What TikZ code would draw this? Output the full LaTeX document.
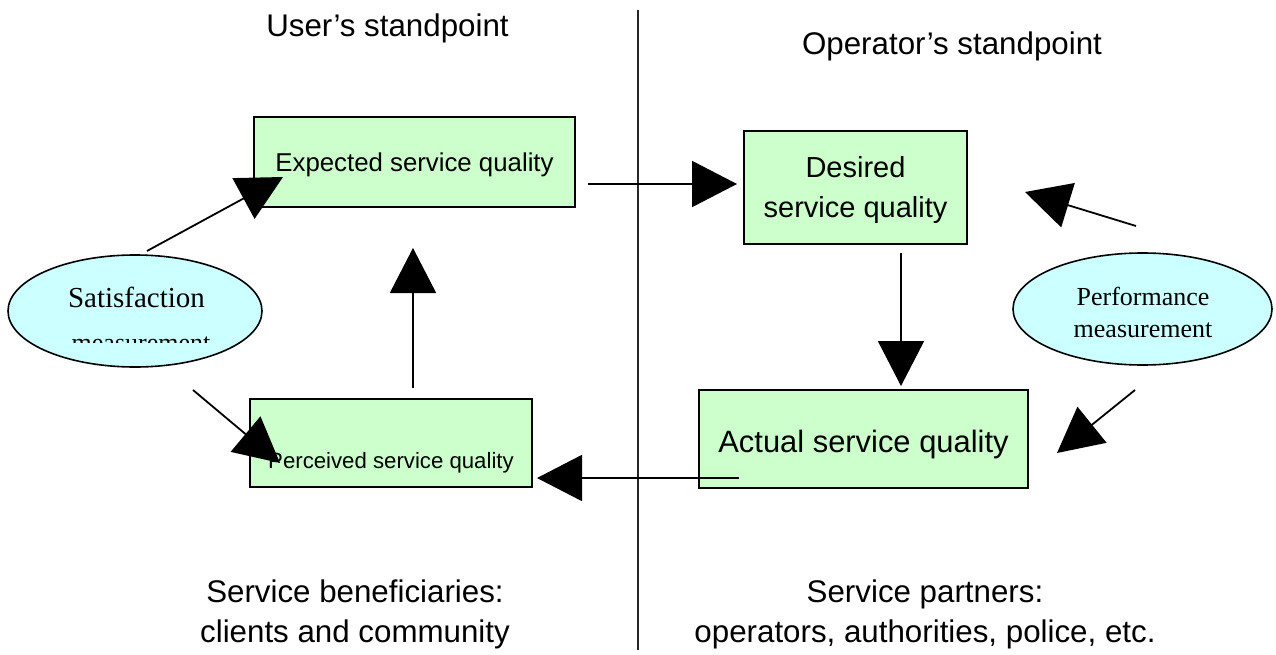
\documentclass[tikz,border=0pt]{standalone}
\usepackage{fontspec}
\setmainfont{Liberation Serif}
\newfontfamily\arialf{Liberation Sans}
\usetikzlibrary{arrows.meta,shapes.geometric}
\definecolor{boxgreen}{HTML}{CCFFCC}
\definecolor{ellcyan}{HTML}{CCFFFF}
\begin{document}
\begin{tikzpicture}[x=1pt,y=-1pt,
  qbox/.style={draw=black, line width=1.8pt, fill=boxgreen, inner sep=0pt, align=center},
  meas/.style={ellipse, draw=black, line width=1.6pt, fill=ellcyan, inner sep=0pt},
  arr/.style={line width=1.8pt, -{Triangle[length=45pt,width=46pt]}},
  head/.style={anchor=base, font=\arialf\fontsize{31.3}{40}\selectfont},
  foot/.style={anchor=base, align=center, font=\arialf\fontsize{31.3}{40}\selectfont},
  serif26/.style={anchor=base, font=\fontsize{26}{32}\selectfont}
]
\useasboundingbox (0,0) rectangle (1276,655);
\fill[white] (0,0) rectangle (1276,655);

% divider
\coordinate (divtop) at (638,10);
\coordinate (divbot) at (638,650);
\draw[line width=1.5pt, black!85] (divtop) -- (divbot);

% headers
\node[head] (hu) at (387.5,37) {User’s standpoint};
\node[head] (ho) at (952,55) {Operator’s standpoint};

% boxes
\node[qbox, minimum width=321pt, minimum height=90pt, text height=20pt, text depth=0pt,
      font=\arialf\fontsize{25.8}{30}\selectfont] (exp) at (414.5,162) {Expected service quality};
\node[qbox, minimum width=223pt, minimum height=113pt, text height=61pt, text depth=0pt,
      font=\arialf\fontsize{29}{40}\selectfont] (des) at (855.5,187.5) {Desired\\service quality};
\node[qbox, minimum width=282pt, minimum height=88pt, text height=50pt, text depth=0pt,
      font=\arialf\fontsize{22.2}{28}\selectfont] (per) at (391,443) {Perceived service quality};
\node[qbox, minimum width=329pt, minimum height=98pt, text height=26pt, text depth=0pt,
      font=\arialf\fontsize{30.9}{36}\selectfont] (act) at (863.5,439) {Actual service quality};

% ellipses
\node[meas, minimum width=254pt, minimum height=112pt] (sat) at (135,311) {};
\node[anchor=base, font=\fontsize{29}{34}\selectfont] (satT1) at (136.5,307) {Satisfaction};
\begin{scope}
  \clip (0,0) rectangle (1276,342.5);
  \node[serif26] (satT2) at (141,351) {measurement};
\end{scope}
\node[meas, minimum width=259pt, minimum height=112pt] (perf) at (1142.5,309) {};
\node[serif26] (perfT1) at (1143,305) {Performance};
\node[serif26] (perfT2) at (1143,337) {measurement};

% connector end points
\coordinate (a1s) at (588,184);   \coordinate (a1e) at (737,184);
\coordinate (a2s) at (901,253);   \coordinate (a2e) at (901,386);
\coordinate (a3s) at (739,478);   \coordinate (a3e) at (537,478);
\coordinate (a4s) at (413,388);   \coordinate (a4e) at (413,248);
\coordinate (a5s) at (147,251);   \coordinate (a5e) at (283,177);
\coordinate (a6s) at (193,390);   \coordinate (a6e) at (280,463);
\coordinate (a7s) at (1136,226);  \coordinate (a7e) at (1025,192);
\coordinate (a8s) at (1135,390);  \coordinate (a8e) at (1057,453);

\draw[arr] (a1s) -- (a1e);
\draw[arr] (a2s) -- (a2e);
\draw[arr] (a3s) -- (a3e);
\draw[arr] (a4s) -- (a4e);
\draw[arr] (a5s) -- (a5e);
\draw[arr] (a6s) -- (a6e);
\draw[arr] (a7s) -- (a7e);
\draw[arr] (a8s) -- (a8e);

% footers (base anchor = baseline of the last line)
\node[foot] (fl) at (355,642) {Service beneficiaries:\\clients and community};
\node[foot] (fr) at (925,642) {Service partners:\\operators, authorities, police, etc.};
\end{tikzpicture}
\end{document}
